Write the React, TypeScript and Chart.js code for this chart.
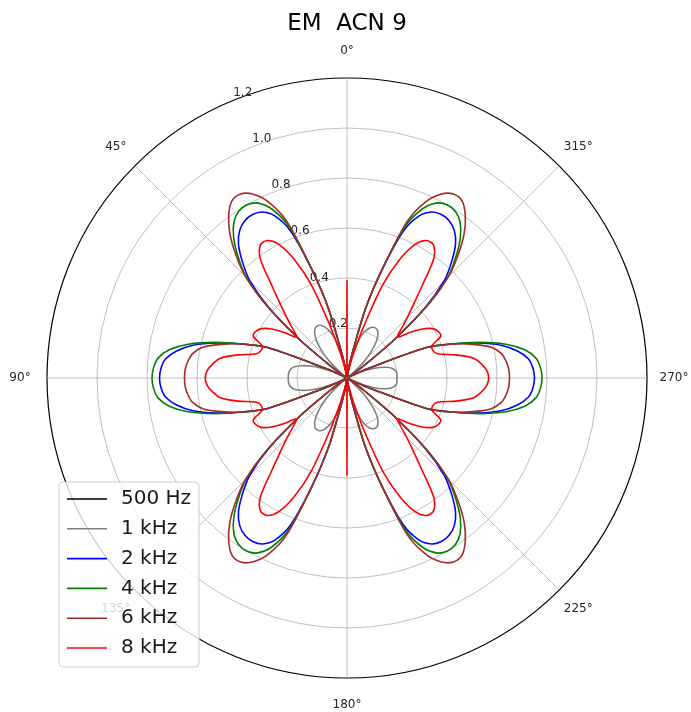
import React, { useEffect, useRef } from 'react';
import { Chart, registerables } from 'chart.js';

Chart.register(...registerables);

const TITLE = 'EM  ACN 9';
const SERIES_NAMES = ['500 Hz', '1 kHz', '2 kHz', '4 kHz', '6 kHz', '8 kHz'];
const SERIES_COLORS = ['#000000', '#808080', '#0000ff', '#008000', '#a52a2a', '#ff0000'];
const R_TICKS = [0.2, 0.4, 0.6, 0.8, 1.0, 1.2];
const ANGLE_TICKS = [0, 45, 90, 135, 180, 225, 270, 315];
// theta (deg, counter-clockwise from top) of every sample: 0, 3, ..., 357
const THETA_DEG = Array.from({ length: 120 }, (_, k) => k * 3);

// magnitudes, one per THETA_DEG entry
const hz500 = [
  0, 0, 0, 0, 0.005, 0.005, 0.01, 0.01, 0.01, 0.01, 0.01, 0.01, 0.01, 0.01, 0.01, 0.005, 0.005, 0, 0, 0, 0, 0, 0.005, 0.005, 0.01, 0.01, 0.01, 0.01, 0.01, 0.01, 0.01,
  0.01, 0.01, 0.01, 0.01, 0.01, 0.01, 0.005, 0.005, 0, 0, 0, 0, 0, 0.005, 0.005, 0.01, 0.01, 0.01, 0.01, 0.01, 0.01, 0.01, 0.01, 0.01, 0.005, 0.005, 0, 0, 0, 0,
  0, 0, 0, 0.005, 0.005, 0.01, 0.01, 0.01, 0.01, 0.01, 0.01, 0.01, 0.01, 0.01, 0.005, 0.005, 0, 0, 0, 0, 0, 0.005, 0.005, 0.01, 0.01, 0.01, 0.01, 0.01, 0.01, 0.01,
  0.01, 0.01, 0.01, 0.01, 0.01, 0.01, 0.005, 0.005, 0, 0, 0, 0, 0, 0.005, 0.005, 0.01, 0.01, 0.01, 0.01, 0.01, 0.01, 0.01, 0.01, 0.01, 0.005, 0.005, 0, 0, 0,
];
const khz1 = [
  0, 0, 0.02, 0.05, 0.09, 0.135, 0.175, 0.205, 0.225, 0.237, 0.24, 0.235, 0.22, 0.195, 0.16, 0.12, 0.075, 0.035, 0.01, 0, 0, 0.02, 0.06, 0.11, 0.155, 0.19, 0.215, 0.228, 0.233, 0.235, 0.235,
  0.235, 0.233, 0.228, 0.215, 0.19, 0.155, 0.11, 0.06, 0.02, 0, 0, 0.01, 0.035, 0.075, 0.12, 0.16, 0.195, 0.22, 0.235, 0.24, 0.237, 0.225, 0.205, 0.175, 0.135, 0.09, 0.05, 0.02, 0, 0,
  0, 0.02, 0.05, 0.09, 0.13, 0.17, 0.198, 0.218, 0.228, 0.23, 0.225, 0.21, 0.185, 0.15, 0.11, 0.07, 0.033, 0.01, 0, 0, 0.02, 0.055, 0.095, 0.135, 0.165, 0.185, 0.195, 0.2, 0.2, 0.2,
  0.2, 0.2, 0.195, 0.185, 0.165, 0.135, 0.095, 0.055, 0.02, 0, 0, 0.01, 0.033, 0.07, 0.11, 0.15, 0.185, 0.21, 0.225, 0.23, 0.228, 0.218, 0.198, 0.17, 0.13, 0.09, 0.05, 0.02, 0,
];
const khz2 = [
  0, 0, 0, 0.02, 0.1, 0.29, 0.46, 0.63, 0.71, 0.745, 0.755, 0.75, 0.73, 0.69, 0.625, 0.55, 0.42, 0.24, 0.08, 0.02, 0.01, 0.02, 0.1, 0.34, 0.44, 0.54, 0.63, 0.69, 0.73, 0.745, 0.75,
  0.745, 0.73, 0.69, 0.63, 0.54, 0.44, 0.34, 0.1, 0.02, 0.01, 0.02, 0.08, 0.24, 0.42, 0.55, 0.625, 0.69, 0.73, 0.75, 0.755, 0.745, 0.71, 0.63, 0.46, 0.29, 0.1, 0.02, 0, 0, 0,
  0, 0, 0.02, 0.1, 0.29, 0.46, 0.63, 0.71, 0.745, 0.755, 0.75, 0.73, 0.69, 0.625, 0.55, 0.42, 0.24, 0.08, 0.02, 0.01, 0.02, 0.1, 0.34, 0.44, 0.54, 0.63, 0.69, 0.73, 0.745, 0.75,
  0.745, 0.73, 0.69, 0.63, 0.54, 0.44, 0.34, 0.1, 0.02, 0.01, 0.02, 0.08, 0.24, 0.42, 0.55, 0.625, 0.69, 0.73, 0.75, 0.755, 0.745, 0.71, 0.63, 0.46, 0.29, 0.1, 0.02, 0, 0,
];
const khz4 = [
  0, 0, 0, 0.02, 0.1, 0.29, 0.46, 0.65, 0.74, 0.785, 0.8, 0.795, 0.77, 0.72, 0.65, 0.57, 0.43, 0.24, 0.08, 0.02, 0.01, 0.02, 0.1, 0.34, 0.44, 0.55, 0.65, 0.72, 0.76, 0.775, 0.78,
  0.775, 0.76, 0.72, 0.65, 0.55, 0.44, 0.34, 0.1, 0.02, 0.01, 0.02, 0.08, 0.24, 0.43, 0.57, 0.65, 0.72, 0.77, 0.795, 0.8, 0.785, 0.74, 0.65, 0.46, 0.29, 0.1, 0.02, 0, 0, 0,
  0, 0, 0.02, 0.1, 0.29, 0.46, 0.65, 0.74, 0.785, 0.8, 0.795, 0.77, 0.72, 0.65, 0.57, 0.43, 0.24, 0.08, 0.02, 0.01, 0.02, 0.1, 0.34, 0.44, 0.55, 0.65, 0.72, 0.76, 0.775, 0.78,
  0.775, 0.76, 0.72, 0.65, 0.55, 0.44, 0.34, 0.1, 0.02, 0.01, 0.02, 0.08, 0.24, 0.43, 0.57, 0.65, 0.72, 0.77, 0.795, 0.8, 0.785, 0.74, 0.65, 0.46, 0.29, 0.1, 0.02, 0, 0,
];
const khz6 = [
  0, 0, 0, 0.02, 0.1, 0.29, 0.46, 0.67, 0.77, 0.825, 0.85, 0.845, 0.805, 0.745, 0.665, 0.575, 0.43, 0.24, 0.08, 0.02, 0.01, 0.02, 0.1, 0.34, 0.44, 0.52, 0.59, 0.625, 0.64, 0.648, 0.65,
  0.648, 0.64, 0.625, 0.59, 0.52, 0.44, 0.34, 0.1, 0.02, 0.01, 0.02, 0.08, 0.24, 0.43, 0.575, 0.665, 0.745, 0.805, 0.845, 0.85, 0.825, 0.77, 0.67, 0.46, 0.29, 0.1, 0.02, 0, 0, 0,
  0, 0, 0.02, 0.1, 0.29, 0.46, 0.67, 0.77, 0.825, 0.85, 0.845, 0.805, 0.745, 0.665, 0.575, 0.43, 0.24, 0.08, 0.02, 0.01, 0.02, 0.1, 0.34, 0.44, 0.52, 0.59, 0.625, 0.64, 0.648, 0.65,
  0.648, 0.64, 0.625, 0.59, 0.52, 0.44, 0.34, 0.1, 0.02, 0.01, 0.02, 0.08, 0.24, 0.43, 0.575, 0.665, 0.745, 0.805, 0.845, 0.85, 0.825, 0.77, 0.67, 0.46, 0.29, 0.1, 0.02, 0, 0,
];
const khz8 = [
  0.39, 0.01, 0.01, 0.02, 0.04, 0.1, 0.22, 0.4, 0.52, 0.6, 0.635, 0.635, 0.59, 0.48, 0.4, 0.34, 0.29, 0.26, 0.31, 0.36, 0.395, 0.41, 0.41, 0.365, 0.36, 0.375, 0.445, 0.51, 0.54, 0.56, 0.567,
  0.56, 0.54, 0.51, 0.445, 0.375, 0.36, 0.365, 0.41, 0.41, 0.395, 0.36, 0.31, 0.26, 0.29, 0.34, 0.4, 0.48, 0.59, 0.635, 0.635, 0.6, 0.52, 0.4, 0.22, 0.1, 0.04, 0.02, 0.01, 0.01, 0.39,
  0.01, 0.01, 0.02, 0.04, 0.1, 0.22, 0.4, 0.52, 0.6, 0.635, 0.635, 0.59, 0.48, 0.4, 0.34, 0.29, 0.26, 0.31, 0.36, 0.395, 0.41, 0.41, 0.365, 0.36, 0.375, 0.445, 0.51, 0.54, 0.56, 0.567,
  0.56, 0.54, 0.51, 0.445, 0.375, 0.36, 0.365, 0.41, 0.41, 0.395, 0.36, 0.31, 0.26, 0.29, 0.34, 0.4, 0.48, 0.59, 0.635, 0.635, 0.6, 0.52, 0.4, 0.22, 0.1, 0.04, 0.02, 0.01, 0.01,
];

const SERIES = [hz500, khz1, khz2, khz4, khz6, khz8];
const FONT = '"DejaVu Sans", sans-serif';

const overlayPlugin = {
  id: 'polarOverlay',
  beforeDatasetsDraw(chart: any) {
    const s = chart.scales.r;
    const ctx = chart.ctx as CanvasRenderingContext2D;
    ctx.save();
    ctx.fillStyle = '#262626';
    ctx.font = `12px ${FONT}`;
    ctx.textAlign = 'left';
    ctx.textBaseline = 'alphabetic';
    const a = (22.5 * Math.PI) / 180;
    R_TICKS.forEach((v) => {
      const d = s.getDistanceFromCenterForValue(v);
      const x = s.xCenter - d * Math.sin(a);
      const y = s.yCenter - d * Math.cos(a);
      ctx.fillText(v.toFixed(1), x + 1, y - 5);
    });
    ctx.textAlign = 'center';
    ctx.textBaseline = 'middle';
    const n = THETA_DEG.length;
    ANGLE_TICKS.forEach((t) => {
      const idx = ((360 - t) % 360) / 3;
      const p = s.getPointPosition(idx % n, s.drawingArea + 27);
      ctx.fillText(`${t}°`, p.x, p.y);
    });
    ctx.restore();
  },
  afterDatasetsDraw(chart: any) {
    const s = chart.scales.r;
    const ctx = chart.ctx as CanvasRenderingContext2D;
    const left = s.xCenter - s.drawingArea + 12;
    const bottom = s.yCenter + s.drawingArea - 11;
    const w = 140;
    const h = 185;
    const top = bottom - h;
    ctx.save();
    ctx.beginPath();
    const r = 4;
    ctx.moveTo(left + r, top);
    ctx.lineTo(left + w - r, top);
    ctx.arcTo(left + w, top, left + w, top + r, r);
    ctx.lineTo(left + w, top + h - r);
    ctx.arcTo(left + w, top + h, left + w - r, top + h, r);
    ctx.lineTo(left + r, top + h);
    ctx.arcTo(left, top + h, left, top + h - r, r);
    ctx.lineTo(left, top + r);
    ctx.arcTo(left, top, left + r, top, r);
    ctx.closePath();
    ctx.fillStyle = 'rgba(255,255,255,0.8)';
    ctx.fill();
    ctx.strokeStyle = '#cccccc';
    ctx.lineWidth = 1;
    ctx.stroke();
    ctx.font = `20px ${FONT}`;
    ctx.textAlign = 'left';
    ctx.textBaseline = 'middle';
    SERIES_NAMES.forEach((name, k) => {
      const y = top + 17 + k * 29.8;
      ctx.beginPath();
      ctx.moveTo(left + 8, y);
      ctx.lineTo(left + 48, y);
      ctx.strokeStyle = SERIES_COLORS[k];
      ctx.lineWidth = 1.6;
      ctx.stroke();
      ctx.fillStyle = '#1a1a1a';
      ctx.fillText(name, left + 62, y);
    });
    ctx.restore();
  },
};

export default function App() {
  const ref = useRef<HTMLCanvasElement>(null);
  useEffect(() => {
    document.body.style.margin = '0';
    const n = THETA_DEG.length;
    // radar goes clockwise from the top; matplotlib angles go counter-clockwise
    const order = Array.from({ length: n }, (_, i) => (n - i) % n);
    const chart = new Chart(ref.current as HTMLCanvasElement, {
      type: 'radar',
      data: {
        labels: order.map((j) => String(THETA_DEG[j])),
        datasets: SERIES.map((vals, k) => ({
          label: SERIES_NAMES[k],
          data: order.map((j) => vals[j]),
          borderColor: SERIES_COLORS[k],
          backgroundColor: SERIES_COLORS[k],
          borderWidth: 1.6,
          pointRadius: 0,
          fill: false,
          tension: 0.3,
          order: SERIES.length - k,
        })),
      },
      options: {
        responsive: false,
        animation: false,
        events: [],
        layout: { padding: { top: 0, left: 47, right: 44, bottom: 34 } },
        plugins: {
          legend: { display: false },
          tooltip: { enabled: false },
          title: {
            display: true,
            text: TITLE,
            color: '#000000',
            font: { size: 23, weight: 'normal', family: FONT },
            padding: { top: 10, bottom: 40.4 },
          },
        },
        scales: {
          r: {
            min: 0,
            max: 1.2,
            ticks: { display: false, stepSize: 0.2 },
            pointLabels: { display: false },
            grid: {
              circular: true,
              color: (c: any) => (c.index === 6 ? '#000000' : '#b0b0b0'),
              lineWidth: (c: any) => (c.index === 6 ? 1.2 : 0.8),
            },
            angleLines: {
              color: '#b0b0b0',
              lineWidth: (c: any) => (c.index % 15 === 0 ? 0.8 : 0),
            },
          },
        },
      } as any,
      plugins: [overlayPlugin],
    });
    return () => chart.destroy();
  }, []);
  return <canvas ref={ref} width={691} height={712} style={{ display: 'block' }} />;
}
